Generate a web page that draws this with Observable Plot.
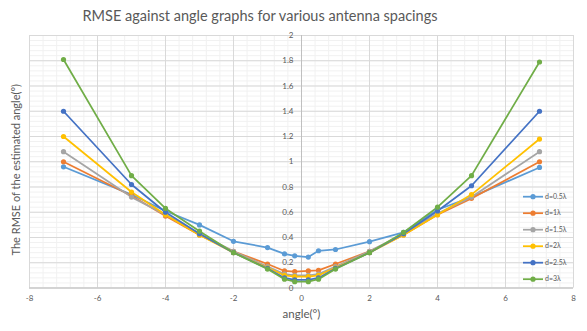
<!DOCTYPE html>
<html>
<head>
<meta charset="utf-8">
<script src="https://cdn.jsdelivr.net/npm/d3@7"></script>
<script src="https://cdn.jsdelivr.net/npm/@observablehq/plot@0.6"></script>
<style>
  body { margin: 0; background: #fff; font-family: Lato, "Open Sans", sans-serif; }
  #title { height: 28px; line-height: 31px; width: 520px; text-align: center; font-size: 14.5px; color: #595959; }
</style>
</head>
<body>
<div id="title">RMSE against angle graphs for various antenna spacings</div>
<div id="chart"></div>
<script>
// Incident angles (degrees) at which RMSE was evaluated
const angles = [-7, -5, -4, -3, -2, -1, -0.5, -0.2, 0.2, 0.5, 1, 2, 3, 4, 5, 7];

// Antenna spacings and their series colours
const spacings = ["d=0.5λ", "d=1λ", "d=1.5λ", "d=2λ", "d=2.5λ", "d=3λ"];
const seriesColors = ["#5B9BD5", "#ED7D31", "#A5A5A5", "#FFC000", "#4472C4", "#70AD47"];

// RMSE of the estimated angle for each spacing
const rmseD05 = [0.96, 0.74, 0.61, 0.50, 0.37, 0.32, 0.27, 0.255, 0.245, 0.295, 0.305, 0.367, 0.44, 0.62, 0.72, 0.955];
const rmseD1  = [1.00, 0.73, 0.57, 0.42, 0.29, 0.19, 0.135, 0.13, 0.135, 0.14, 0.19, 0.29, 0.42, 0.58, 0.71, 1.00];
const rmseD15 = [1.08, 0.72, 0.58, 0.43, 0.29, 0.17, 0.11, 0.10, 0.10, 0.11, 0.17, 0.29, 0.43, 0.59, 0.72, 1.08];
const rmseD2  = [1.20, 0.76, 0.58, 0.42, 0.28, 0.16, 0.10, 0.09, 0.09, 0.10, 0.16, 0.28, 0.42, 0.58, 0.74, 1.18];
const rmseD25 = [1.40, 0.82, 0.60, 0.43, 0.28, 0.155, 0.08, 0.065, 0.065, 0.08, 0.155, 0.28, 0.43, 0.61, 0.81, 1.40];
const rmseD3  = [1.81, 0.89, 0.63, 0.45, 0.28, 0.15, 0.07, 0.05, 0.05, 0.07, 0.15, 0.28, 0.44, 0.64, 0.89, 1.79];

// Axis ticks
const xTicks = [-8, -6, -4, -2, 0, 2, 4, 6, 8];
const yTicks = [0, 0.2, 0.4, 0.6, 0.8, 1, 1.2, 1.4, 1.6, 1.8, 2];
const xMinor = d3.range(-8, 8.001, 0.4);
const yMinor = d3.range(0, 2.001, 0.04);

const allSeries = [rmseD05, rmseD1, rmseD15, rmseD2, rmseD25, rmseD3];
const rows = allSeries.flatMap((vals, i) =>
  vals.map((v, j) => ({ series: spacings[i], angle: angles[j], rmse: v }))
);

const labelColor = "#595959";

const chart = Plot.plot({
  width: 587,
  height: 303,
  marginLeft: 29,
  marginRight: 14,
  marginTop: 7,
  marginBottom: 43.5,
  x: { domain: [-8, 8], axis: null },
  y: { domain: [0, 2], axis: null },
  color: { domain: spacings, range: seriesColors },
  style: { fontFamily: "Lato, 'Open Sans', sans-serif", background: "#fff", overflow: "visible" },
  marks: [
    Plot.ruleX(xMinor, { stroke: "#f1f1f1", strokeWidth: 1 }),
    Plot.ruleY(yMinor, { stroke: "#f1f1f1", strokeWidth: 1 }),
    Plot.ruleX(xTicks, { stroke: "#d9d9d9", strokeWidth: 1 }),
    Plot.ruleY(yTicks, { stroke: "#d9d9d9", strokeWidth: 1 }),
    Plot.ruleX([0], { stroke: "#bfbfbf", strokeWidth: 1 }),
    Plot.ruleY([0], { stroke: "#bfbfbf", strokeWidth: 1 }),
    Plot.line(rows, { x: "angle", y: "rmse", z: "series", stroke: "series", strokeWidth: 1.75 }),
    Plot.dot(rows, { x: "angle", y: "rmse", fill: "series", r: 2.6 }),
    Plot.text(yTicks, {
      x: 0, y: d => d, text: d => String(d),
      textAnchor: "end", dx: -8, fontSize: 8, fill: labelColor
    }),
    Plot.text(xTicks, {
      x: d => d, y: 0, text: d => String(d),
      dy: 10, fontSize: 8, fill: labelColor
    }),
    Plot.text(["angle(°)"], { frameAnchor: "bottom", dy: 29.5, fontSize: 11.5, fill: labelColor }),
    Plot.text(["The RMSE of the estimated angle(°)"], {
      frameAnchor: "left", textAnchor: "middle", rotate: -90, dx: -13, dy: 8, fontSize: 11, fill: labelColor
    })
  ]
});

// Legend in the lower right of the plot area
const svg = d3.select(chart);
const legend = svg.append("g").attr("font-family", "Lato, 'Open Sans', sans-serif");
spacings.forEach((name, i) => {
  const y = 168.7 + i * 16.5;
  const g = legend.append("g").attr("transform", `translate(0,${y})`);
  g.append("line").attr("x1", 523).attr("x2", 543).attr("y1", 0).attr("y2", 0)
    .attr("stroke", seriesColors[i]).attr("stroke-width", 1.75);
  g.append("circle").attr("cx", 533).attr("cy", 0).attr("r", 2.6).attr("fill", seriesColors[i]);
  g.append("text").attr("x", 545).attr("y", 0).attr("dy", "0.32em")
    .attr("text-anchor", "start")
    .attr("font-size", 7).attr("fill", labelColor).text(name);
});

document.getElementById("chart").appendChild(chart);
</script>
</body>
</html>
